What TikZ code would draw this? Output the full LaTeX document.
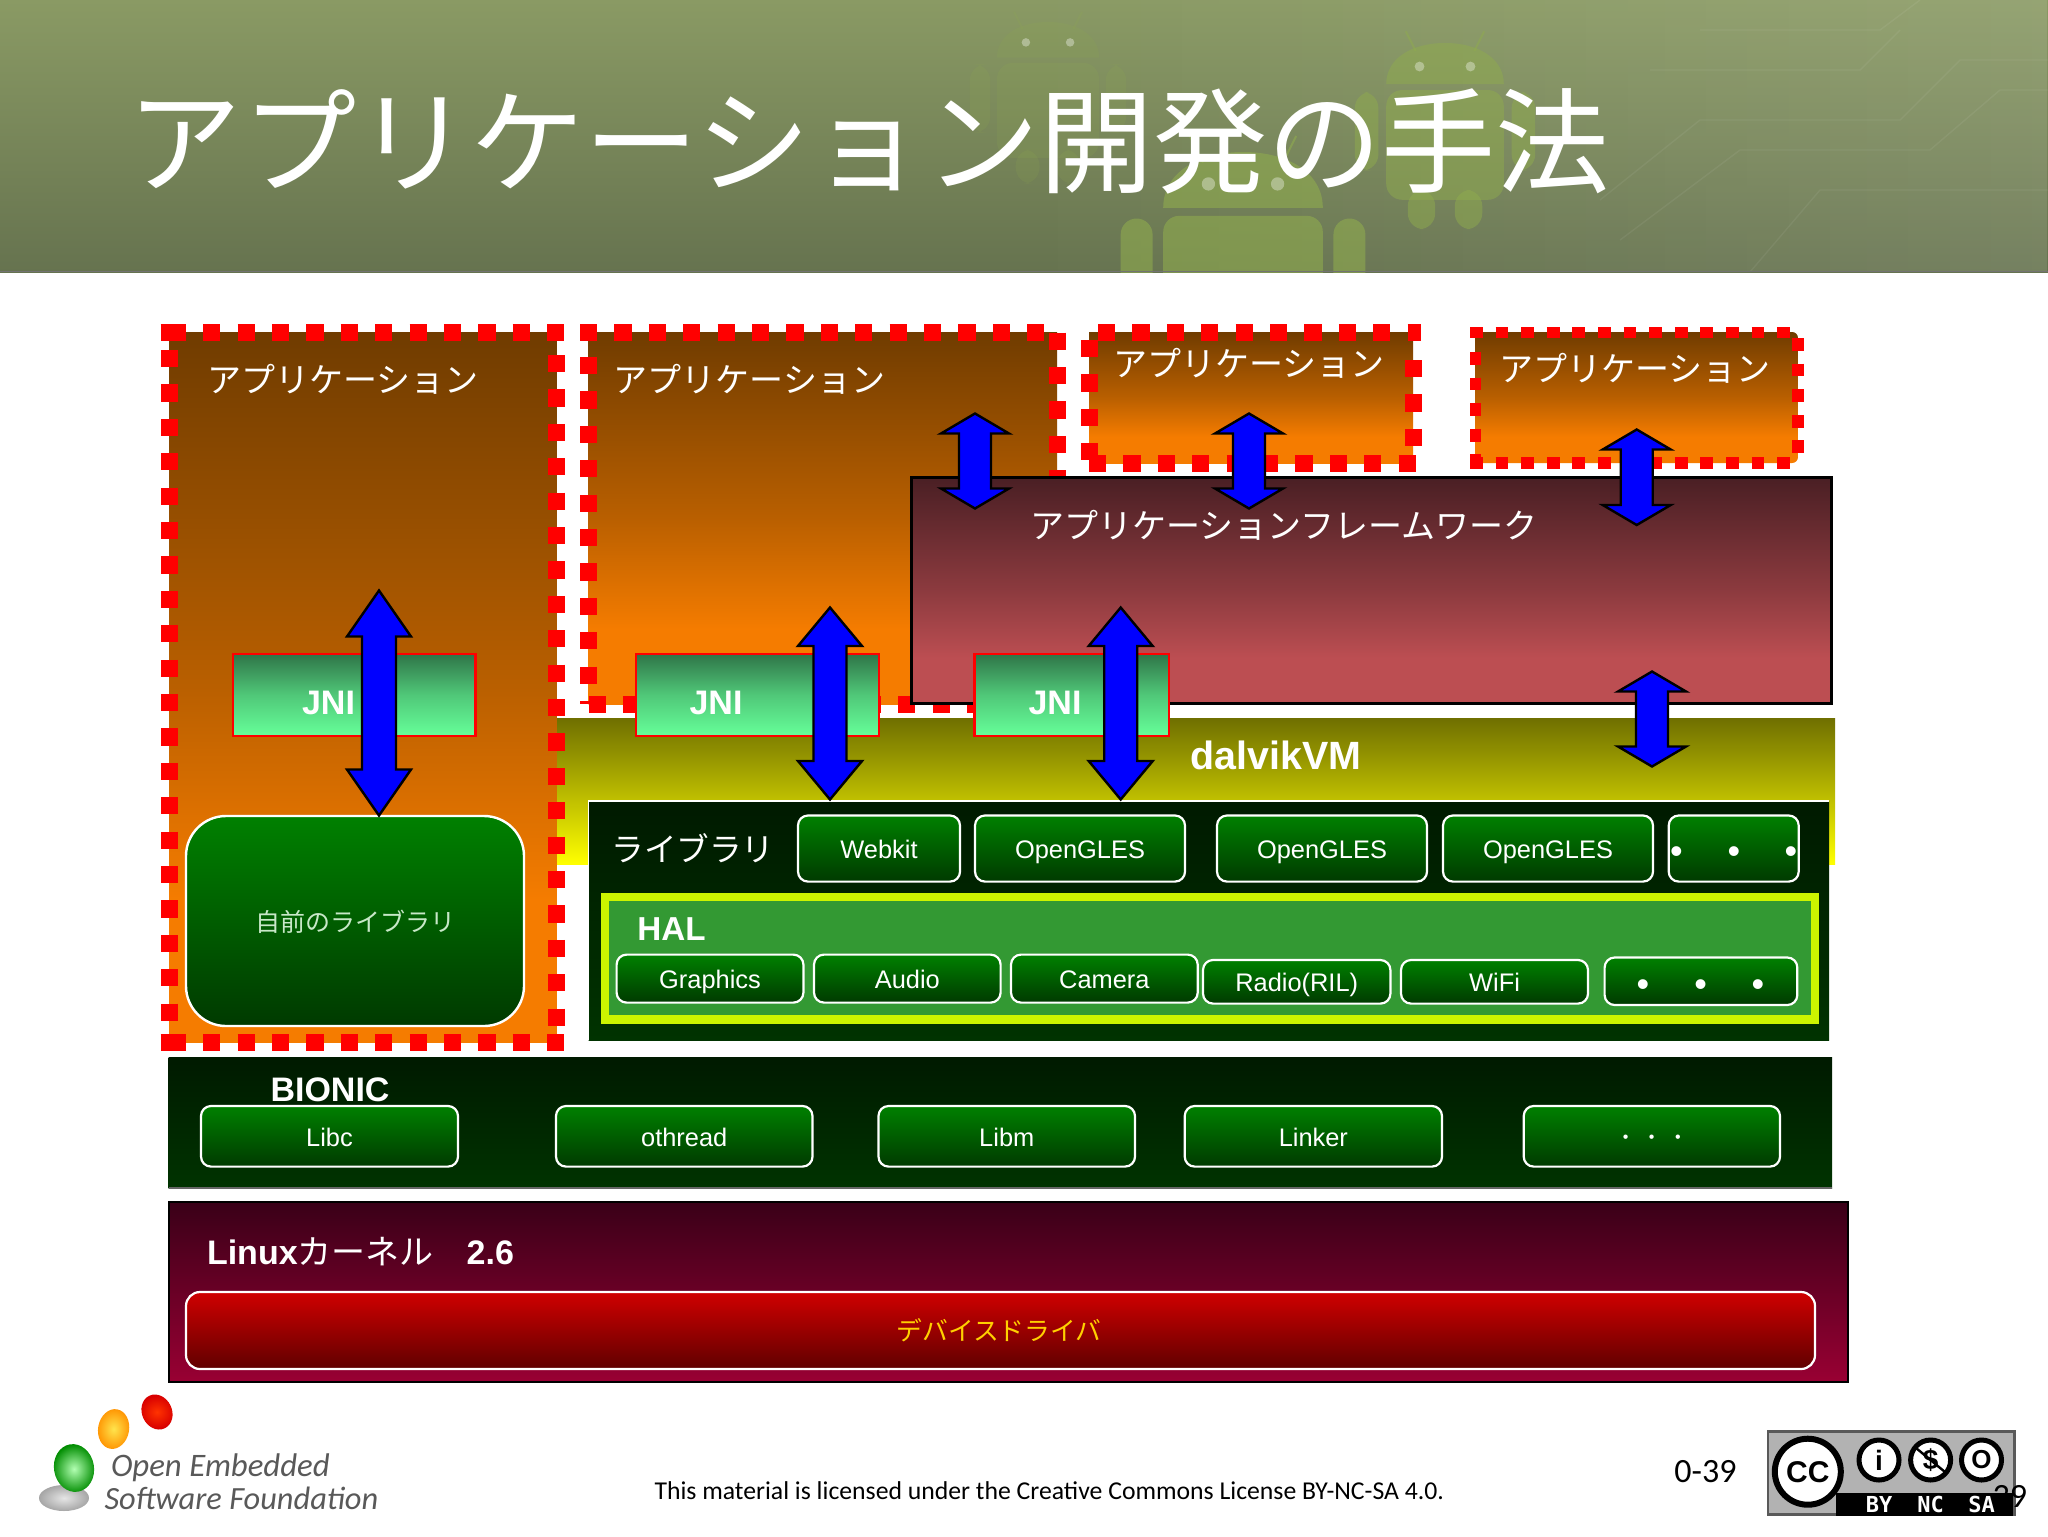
\documentclass[tikz,border=0pt]{standalone}
\usepackage{fontspec}
\usetikzlibrary{fadings}
\setmainfont{Liberation Sans}
\newfontfamily\jpfam{Noto Sans CJK JP}
\newfontfamily\calfam{Carlito}
\newfontfamily\monfam{DejaVu Sans Mono}
\definecolor{hdrA}{HTML}{8A9A64}
\definecolor{hdrB}{HTML}{66734F}
\definecolor{robotc}{HTML}{8FAB4E}
\definecolor{appT}{HTML}{703C00}
\definecolor{appB}{HTML}{F57C00}
\colorlet{appM}{appB!55!appT}
\definecolor{fwT}{HTML}{4A1F24}
\definecolor{fwB}{HTML}{BC4E52}
\colorlet{fwM}{fwB!58!fwT}
\definecolor{dvT}{HTML}{6F6F00}
\definecolor{darkT}{HTML}{001A00}
\definecolor{darkB}{HTML}{003300}
\definecolor{btnT}{HTML}{008000}
\definecolor{btnB}{HTML}{003A00}
\definecolor{jniT}{HTML}{2F7548}
\definecolor{jniB}{HTML}{66FF99}
\definecolor{halY}{HTML}{CCF500}
\definecolor{halG}{HTML}{339933}
\definecolor{lnxT}{HTML}{3A0018}
\definecolor{lnxB}{HTML}{990033}
\definecolor{drvT}{HTML}{D00000}
\definecolor{drvB}{HTML}{600000}
\definecolor{drvtxt}{HTML}{FFD000}
\definecolor{ownT}{HTML}{C8E8C8}
\pgfdeclareverticalshading{appshade}{100bp}{color(0bp)=(appB); color(35bp)=(appB); color(50bp)=(appM); color(75bp)=(appT); color(100bp)=(appT)}
\pgfdeclareverticalshading{fwshade}{100bp}{color(0bp)=(fwB); color(35bp)=(fwB); color(50bp)=(fwM); color(75bp)=(fwT); color(100bp)=(fwT)}
\tikzset{
  appbox/.style={shade,shading=appshade,draw=none},
  fwbox/.style={shade,shading=fwshade,draw=black,line width=1.5pt},
  dvbox/.style={shade,top color=dvT,bottom color=yellow,draw=none},
  darkbox/.style={shade,top color=darkT,bottom color=darkB,draw=none},
  jnibox/.style={shade,top color=jniT,bottom color=jniB,middle color=jniB!60!jniT,draw=red,line width=1.2pt},
  btn/.style={shade,top color=btnT,bottom color=btnB,draw=white,line width=1.1pt,rounded corners=5pt,text=white,text height=10pt,text depth=0pt,font=\fontsize{12.7}{15}\selectfont},
  ownbox/.style={shade,top color=btnT,bottom color=btnB,draw=white,line width=1.2pt,rounded corners=20pt},
  halbox/.style={fill=halG,draw=halY,line width=4.3pt},
  lnxbox/.style={shade,top color=lnxT,bottom color=lnxB,draw=black,line width=1pt},
  drvbox/.style={shade,top color=drvT,bottom color=drvB,draw=white,line width=1.1pt,rounded corners=7pt},
  jplabel/.style={text=white,font=\jpfam\fontsize{17}{20}\selectfont,inner sep=0},
  boldlabel/.style={text=white,font=\bfseries\fontsize{17}{20}\selectfont,inner sep=0},
  dotmark/.style={text=white,font=\fontsize{18}{18}\selectfont,inner sep=0},
  reddash/.style={red,line width=8.5pt,dash pattern=on 8.6pt off 8.6pt},
  redsolid/.style={red,line width=8.5pt},
  redthin/.style={red,line width=5.6pt,dash pattern=on 6.4pt off 6.4pt},
  blockarrow/.style={fill=blue,draw=black,line width=1.2pt,line join=miter},
  inner sep=0pt,outer sep=0pt
}
% name, style, x1,y1,x2,y2, text
\newcommand{\blk}[7]{%
  \pgfmathsetmacro{\bxc}{(#3+#5)/2}\pgfmathsetmacro{\byc}{(#4+#6)/2}%
  \node[#2,minimum width={(#5-#3)*0.5pt},minimum height={(#6-#4)*0.5pt}] (#1) at (\bxc,\byc) {#7};}
% cx,top,bottom,head half width,head length,shaft half width
\newcommand{\dblarrow}[6]{%
  \draw[blockarrow] (#1,#2) -- ({#1+#4},{#2+#5}) -- ({#1+#6},{#2+#5}) -- ({#1+#6},{#3-#5}) -- ({#1+#4},{#3-#5})
   -- (#1,#3) -- ({#1-#4},{#3-#5}) -- ({#1-#6},{#3-#5}) -- ({#1-#6},{#2+#5}) -- ({#1-#4},{#2+#5}) -- cycle;}
% cx, top, scale, opacity
\newcommand{\robot}[4]{%
  \begin{scope}[shift={(#1,#2)},scale=#3,opacity=#4,fill=robotc]
    \fill (-60,42) .. controls (-60,15) and (-33,0) .. (0,0) .. controls (33,0) and (60,15) .. (60,42) -- cycle;
    \fill[rounded corners=8pt] (-60,48) rectangle (60,160);
    \fill[rounded corners=8pt] (-92,50) rectangle (-68,130);
    \fill[rounded corners=8pt] (68,50) rectangle (92,130);
    \fill[rounded corners=8pt] (-38,150) rectangle (-10,190);
    \fill[rounded corners=8pt] (10,150) rectangle (38,190);
    \draw[robotc,line width=1pt] (-30,8) -- (-40,-12) (30,8) -- (40,-12);
    \fill[white,opacity=.35] (-26,24) circle (5) (26,24) circle (5);
  \end{scope}}
\begin{document}
\begin{tikzpicture}[x=0.5pt,y=-0.5pt]
\useasboundingbox (0,0) rectangle (2048,1536);
\fill[white] (0,0) rectangle (2048,1536);
% header
\begin{scope}
  \clip (0,0) rectangle (2048,272);
  \shade[top color=hdrA,bottom color=hdrB] (0,0) rectangle (2048,272);
  \fill[white,opacity=.10,path fading=west] (1000,0) rectangle (2048,272);
  \robot{1048}{22}{.85}{.16}
  \robot{1445}{43}{.98}{.5}
  \robot{1243}{152}{1.33}{.6}
  \begin{scope}[draw=white,opacity=.06,line width=.7pt]
    \draw (1600,200) -- (1700,120) -- (1900,120) -- (1960,60) -- (2048,60);
    \draw (1620,240) -- (1740,150) -- (1930,150) -- (2000,90) -- (2048,90);
    \draw (1750,272) -- (1820,190) -- (2048,190);
    \draw (1700,30) -- (1880,30) -- (1920,0);
    \draw (1650,70) -- (1860,70) -- (1900,30);
  \end{scope}
\end{scope}
\draw[black!55,line width=.6pt] (0,271.5) -- (2048,271.5);
\node[text=white,font=\jpfam\fontsize{57.1}{60}\selectfont,inner sep=0] (title) at (869,141) {アプリケーション開発の手法};

% app box 2
\blk{app2}{appbox}{588.5}{332}{1057}{704}{}
\draw[reddash] (580,332) -- (1046,332);
\draw[reddash] (588.5,357) -- (588.5,704);
\draw[reddash] (1057,332.6) -- (1057,480);
\draw[reddash] (588.5,704) -- (1058,704);
\node[jplabel] (app2t) at (749.5,379.5) {アプリケーション};
% app box 3
\blk{app3}{appbox}{1089}{332}{1413}{463}{}
\draw[reddash] (1098,332) -- (1421,332);
\draw[reddash] (1089,340) -- (1089,463);
\draw[reddash] (1413,360) -- (1413,463);
\draw[reddash] (1089,463) -- (1421,463);
\node[jplabel] (app3t) at (1249,363) {アプリケーション};
% app box 4
\blk{app4}{appbox,rounded corners=3pt}{1475}{332}{1798}{463}{}
\draw[redthin] (1470,332.5) -- (1800,332.5);
\draw[redthin] (1475.5,352) -- (1475.5,463);
\draw[redthin] (1798,338) -- (1798,463);
\draw[redthin] (1470,463) -- (1798,463);
\node[jplabel] (app4t) at (1634.7,368) {アプリケーション};

% dalvik
\blk{dalvik}{dvbox}{557}{718}{1835}{864.5}{}
\node[boldlabel,font=\bfseries\fontsize{19.7}{22}\selectfont] (dalvikt) at (1276,755) {dalvikVM};

% framework
\blk{fw}{fwbox}{911}{477.5}{1831}{703}{}
\node[jplabel] (fwt) at (1284,525) {アプリケーションフレームワーク};

% app box 1
\blk{app1}{appbox}{169}{332}{556.5}{1042}{}
\draw[reddash] (168.7,332) -- (565,332);
\draw[redsolid] (160.5,332) -- (186,332);
\draw[reddash] (169,350) -- (169,1042);
\draw[reddash] (556.5,355) -- (556.5,1042);
\draw[reddash] (168.7,1042) -- (565,1042);
\draw[redsolid] (160.5,1042) -- (186,1042);
\node[jplabel] (app1t) at (343,379.5) {アプリケーション};

% own library
\blk{own}{ownbox}{186}{816}{524}{1026}{}
\node[text=ownT,font=\jpfam\fontsize{12.5}{15}\selectfont] (ownt) at (355,922) {自前のライブラリ};

% library block
\blk{lib}{darkbox}{588.5}{801}{1829}{1040}{}
\draw[white,line width=.9pt] (588.5,1040) -- (588.5,801) -- (1829,801);
\node[jplabel,font=\jpfam\fontsize{16.3}{20}\selectfont] (libt) at (693,848) {ライブラリ};
\blk{webkit}{btn}{798}{815.5}{960}{881.6}{Webkit}
\blk{gles1}{btn}{975}{815.5}{1185}{881.6}{OpenGLES}
\blk{gles2}{btn}{1217}{815.5}{1427}{881.6}{OpenGLES}
\blk{gles3}{btn}{1443}{815.5}{1653}{881.6}{OpenGLES}
\blk{libdots}{btn}{1668.7}{815.5}{1798.7}{881.6}{}
\node[dotmark] (ld1) at (1676.5,855) {•};
\node[dotmark] (ld2) at (1734,855) {•};
\node[dotmark] (ld3) at (1791,855) {•};

% HAL
\blk{hal}{halbox}{605}{897}{1815}{1019.5}{}
\node[boldlabel,font=\bfseries\fontsize{16.6}{20}\selectfont] (halt) at (671.5,928.6) {HAL};
\blk{graphics}{btn}{616.6}{954.6}{803.4}{1002.6}{Graphics}
\blk{audio}{btn}{814}{954.6}{1000.6}{1002.6}{Audio}
\blk{camera}{btn}{1011}{954.6}{1197.7}{1002.6}{Camera}
\blk{radio}{btn}{1203}{960}{1390.4}{1003.6}{Radio(RIL)}
\blk{wifi}{btn}{1401}{960}{1588}{1003.6}{WiFi}
\blk{haldots}{btn}{1604.6}{957.5}{1797.3}{1005}{}
\node[dotmark] (hd1) at (1643,988) {•};
\node[dotmark] (hd2) at (1700.7,988) {•};
\node[dotmark] (hd3) at (1758,988) {•};

% BIONIC
\blk{bionic}{darkbox}{168.5}{1057}{1832}{1188}{}
\draw[black!60,line width=.8pt] (168.5,1188) -- (1832,1188);
\node[boldlabel] (bionict) at (330,1090) {BIONIC};
\blk{libc}{btn}{201}{1106}{458}{1166.6}{Libc}
\blk{othread}{btn}{556}{1106}{812.5}{1166.6}{othread}
\blk{libm}{btn}{878.5}{1106}{1135}{1166.6}{Libm}
\blk{linker}{btn}{1184.7}{1106}{1442}{1166.6}{Linker}
\blk{biodots}{btn}{1523.7}{1106}{1780}{1166.6}{}
\node[dotmark,font=\fontsize{8}{8}\selectfont] (bd1) at (1625.6,1138.5) {•};
\node[dotmark,font=\fontsize{8}{8}\selectfont] (bd2) at (1651.7,1138.5) {•};
\node[dotmark,font=\fontsize{8}{8}\selectfont] (bd3) at (1678,1138.5) {•};

% Linux
\blk{linux}{lnxbox}{168.5}{1202.4}{1847.6}{1381.6}{}
\node[anchor=west,text=white,font=\fontsize{17}{20}\selectfont] (linuxt) at (207,1252) {\textbf{Linux}{\jpfam カーネル}\hspace{16.5pt}\textbf{2.6}};
\blk{driver}{drvbox}{186}{1292}{1815}{1369}{}
\node[text=drvtxt,font=\jpfam\fontsize{12.9}{15}\selectfont] (drivert) at (999,1330) {デバイスドライバ};

% JNI
\blk{jni1}{jnibox}{233}{654}{475.5}{736}{}
\blk{jni2}{jnibox}{636}{654}{879}{736}{}
\blk{jni3}{jnibox}{974.5}{654}{1169}{736}{}
\node[boldlabel] (jni1t) at (328.5,703) {JNI};
\node[boldlabel] (jni2t) at (716,703) {JNI};
\node[boldlabel] (jni3t) at (1055,703) {JNI};

% block arrows
\dblarrow{379}{590.5}{815.5}{32}{46}{17}
\dblarrow{830}{607.5}{799.5}{32}{38.5}{16.5}
\dblarrow{1120.7}{607.5}{799.5}{32}{38.5}{16.5}
\dblarrow{975}{413.5}{508.5}{34}{20}{16}
\dblarrow{1249}{413.5}{508.5}{34}{20}{16}
\dblarrow{1636.7}{429.5}{525}{34}{20}{16}
\dblarrow{1652}{671.5}{766.5}{34}{20}{16}

% footer logo
\shade[inner color=orange!40!red,outer color=red!85!black,rotate around={25:(157,1412)}] (157,1412) ellipse (15 and 18);
\shade[inner color=yellow!70!orange!70!white,outer color=orange!85!yellow,rotate around={-10:(113.6,1429)}] (113.6,1429) ellipse (15.5 and 20);
\shade[inner color=black!10,outer color=black!35] (64,1498) ellipse (25 and 13);
\shade[inner color=green!30!white,outer color=green!55!black,rotate around={10:(74,1468)}] (74,1468) ellipse (20 and 24);
\node[anchor=west,text=black!65,font=\calfam\itshape\fontsize{16.4}{18}\selectfont] (oesf1) at (111,1468) {Open Embedded};
\node[anchor=west,text=black!65,font=\calfam\itshape\fontsize{16.2}{18}\selectfont] (oesf2) at (104.5,1498.6) {Software Foundation};
\node[anchor=west,text=black,font=\calfam\fontsize{12.86}{16}\selectfont] (lic) at (654.5,1491) {This material is licensed under the Creative Commons License BY-NC-SA 4.0.};
\node[text=black,font=\calfam\fontsize{17}{20}\selectfont] (pnum) at (1705.5,1472) {0-39};

% CC badge
\fill[black!65] (1766.6,1430) rectangle (2015.5,1516);
\fill[black!30] (1769,1433) rectangle (2013,1513);
\fill[black] (1836,1493) rectangle (2013,1516);
\draw[black,fill=white,line width=3pt] (1807.8,1471.7) circle (33);
\node[font=\bfseries\fontsize{15}{16}\selectfont,text=black] (cct) at (1807.8,1472) {CC};
\draw[black,fill=white,line width=2.5pt] (1879,1460) circle (20);
\draw[black,fill=white,line width=2.5pt] (1930.6,1460) circle (20);
\draw[black,fill=white,line width=2.5pt] (1981.5,1460) circle (20);
\node[font=\bfseries\fontsize{14}{16}\selectfont,text=black] (byi) at (1879,1460) {i};
\node[font=\bfseries\fontsize{14}{16}\selectfont,text=black] (ncs) at (1930.6,1460) {\$};
\draw[black,line width=1.2pt] (1916,1448) -- (1945,1472);
\node[font=\bfseries\fontsize{13}{16}\selectfont,text=black] (sao) at (1981.5,1460) {O};
\node[font=\monfam\bfseries\fontsize{11}{12}\selectfont,text=white] (byt) at (1879,1504) {BY};
\node[font=\monfam\bfseries\fontsize{11}{12}\selectfont,text=white] (nct) at (1930.6,1504) {NC};
\node[font=\monfam\bfseries\fontsize{11}{12}\selectfont,text=white] (sat) at (1981.5,1504) {SA};
\node[anchor=east,text=black,font=\calfam\fontsize{17}{20}\selectfont] (pnumb) at (2027,1497) {39};
\end{tikzpicture}
\end{document}
